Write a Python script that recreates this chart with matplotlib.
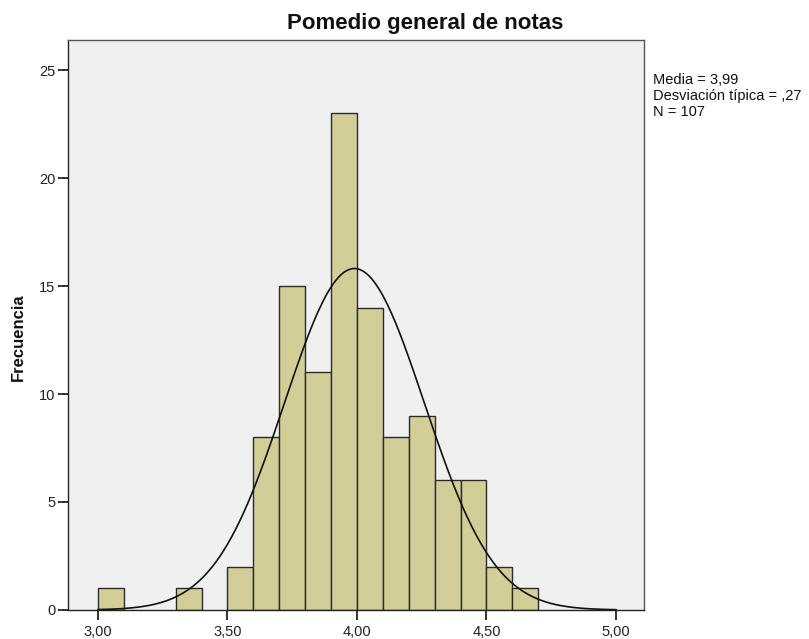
import numpy as np
import matplotlib
matplotlib.use("Agg")
import matplotlib.pyplot as plt

plt.rcParams['font.family'] = ['Liberation Sans', 'DejaVu Sans']

# histogram data (bin left edges and counts)
bin_left = [3.0, 3.1, 3.2, 3.3, 3.4, 3.5, 3.6, 3.7, 3.8, 3.9, 4.0, 4.1, 4.2, 4.3, 4.4, 4.5, 4.6]
counts = [1, 0, 0, 1, 0, 2, 8, 15, 11, 23, 14, 8, 9, 6, 6, 2, 1]
bin_width = 0.1
media = 3.99
desv = 0.27
n_total = 107

xticks = [3.0, 3.5, 4.0, 4.5, 5.0]
xtick_labels = ['3,00', '3,50', '4,00', '4,50', '5,00']
yticks = [0, 5, 10, 15, 20, 25]

fig = plt.figure(figsize=(8.09, 6.39), dpi=100)
ax = fig.add_axes([0.084, 0.0454, 0.712, 0.892])
ax.set_facecolor('#F0F0F0')

for x, c in zip(bin_left, counts):
    if c > 0:
        ax.bar(x, c, width=bin_width, align='edge', color='#D3CE97',
               edgecolor='#2b2b2b', linewidth=1.0, zorder=2)

# curva normal ajustada
xs = np.linspace(3.0, 5.0, 400)
ys = n_total * bin_width / (desv * np.sqrt(2 * np.pi)) * np.exp(-0.5 * ((xs - media) / desv) ** 2)
ax.plot(xs, ys, color='#111111', linewidth=1.2, zorder=3)

ax.set_xlim(2.884, 5.108)
ax.set_ylim(0, 26.39)
ax.set_xticks(xticks)
ax.set_xticklabels(xtick_labels)
ax.set_yticks(yticks)
ax.tick_params(axis='both', direction='out', length=7, width=1.3, color='#222222',
               labelsize=10.5, labelcolor='#222222', pad=2)
ax.tick_params(axis='x', pad=4)

for s in ax.spines.values():
    s.set_color('#555555')
    s.set_linewidth(1.0)
ax.spines['bottom'].set_color('#222222')
ax.spines['left'].set_color('#222222')

fig.text(425 / 809, 1 - 23 / 639, 'Pomedio general de notas', fontsize=16,
         fontweight='bold', ha='center', va='center', color='#111111')
fig.text(18 / 809, 1 - 337 / 639, 'Frecuencia', fontsize=12, fontweight='bold',
         rotation=90, ha='center', va='center', color='#111111')

fig.text(0.807, 0.886, 'Media = 3,99\nDesviación típica = ,27\nN = 107',
         fontsize=10.5, va='top', ha='left', linespacing=1.2, color='#111111')

fig.savefig('out.png', dpi=100)
